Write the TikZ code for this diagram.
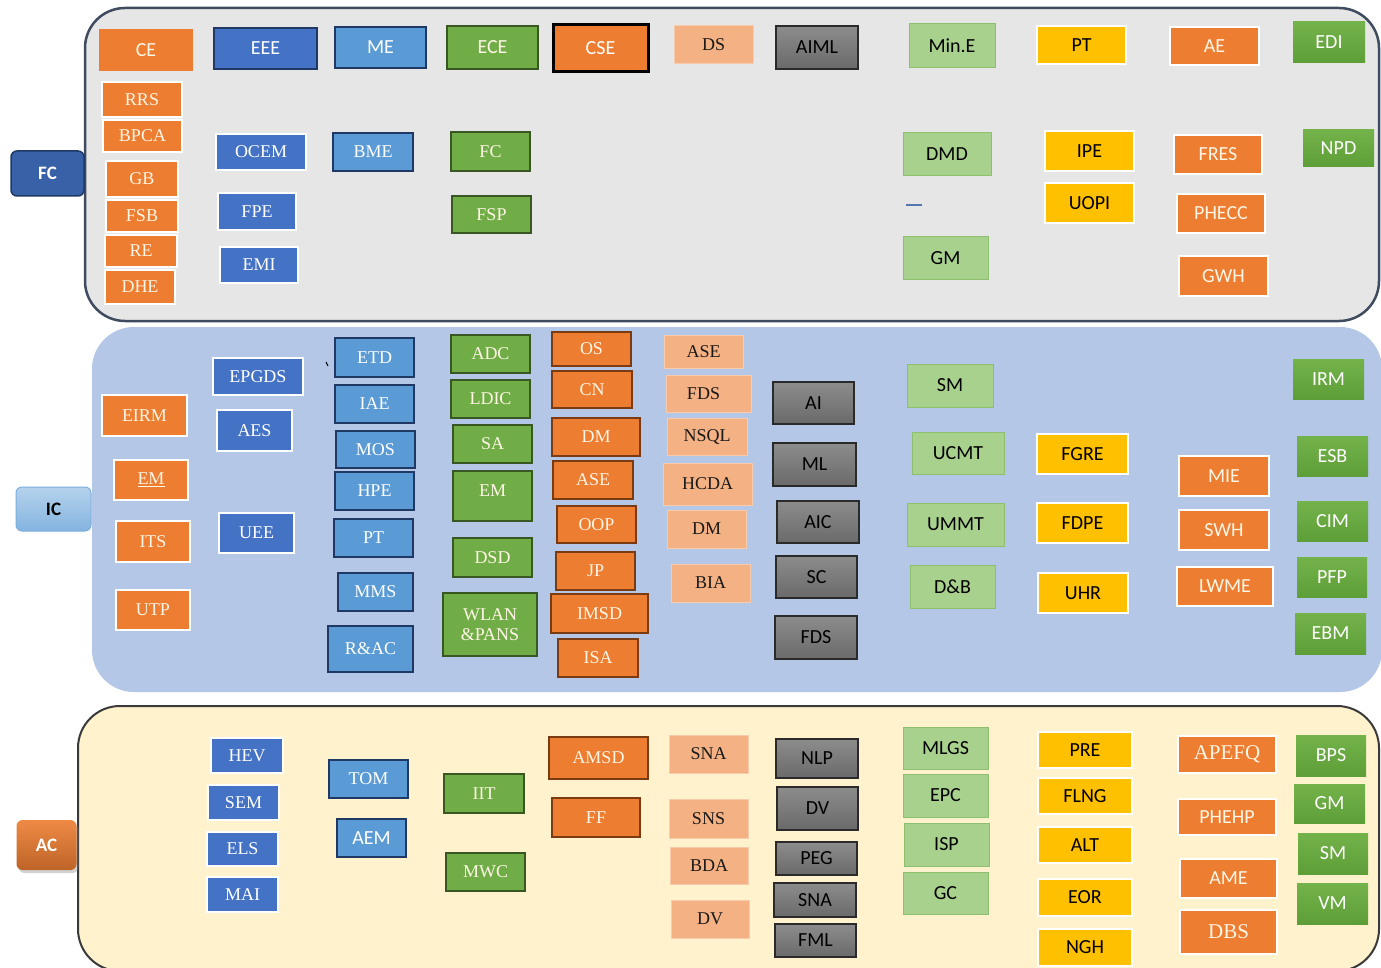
\documentclass[tikz,border=0pt]{standalone}
\usepackage{fontspec}
\setmainfont{Liberation Serif}
\newfontfamily\carl{Carlito}
\usetikzlibrary{shadows}
\definecolor{orA}{HTML}{ED7D31}
\definecolor{orD}{HTML}{7A3A12}
\definecolor{blA}{HTML}{4472C4}
\definecolor{blD}{HTML}{203864}
\definecolor{lbA}{HTML}{5B9BD5}
\definecolor{grA}{HTML}{70AD47}
\definecolor{grD}{HTML}{385723}
\definecolor{grT}{HTML}{74B34A}
\definecolor{grB}{HTML}{5E9E38}
\definecolor{lgA}{HTML}{A9D18E}
\definecolor{lgD}{HTML}{8CBF6E}
\definecolor{yeA}{HTML}{FFC000}
\definecolor{saA}{HTML}{F4B183}
\definecolor{saD}{HTML}{F8CBAD}
\definecolor{gyT}{HTML}{8C8C8C}
\definecolor{gyB}{HTML}{6A6A6A}
\definecolor{gyD}{HTML}{2A2A2A}
\definecolor{fcP}{HTML}{E6E6E6}
\definecolor{fcB}{HTML}{3F4B5E}
\definecolor{icP}{HTML}{B4C7E7}
\definecolor{acP}{HTML}{FFF2CC}
\definecolor{acB}{HTML}{3A3A3A}
\definecolor{crm}{HTML}{FFF6E6}
\newcommand\bxn[8][]{\node[#2,#1,minimum width=#6-#4,minimum height=#7-#5] (#3) at ({(#4+#6)/2},{(#5+#7)/2}) {#8};}
\begin{document}
\begin{tikzpicture}[x=1pt,y=-1pt,
  bx/.style={rectangle, inner sep=0pt, line width=1.8pt, align=center},
  sf/.style={font=\carl\fontsize{20}{24}\selectfont},
  rm/.style={font=\fontsize{18}{21}\selectfont},
  rmb/.style={font=\fontsize{21}{25}\selectfont},
  orn/.style={bx, fill=orA, draw=orA, text=crm},
  orw/.style={bx, fill=orA, draw=white, text=crm},
  ord/.style={bx, fill=orA, draw=orD, text=crm},
  cse/.style={bx, fill=orA, draw=black, line width=3pt, text=white},
  dbw/.style={bx, fill=blA, draw=white, text=white},
  dbd/.style={bx, fill=blA, draw=blD, text=white},
  lbd/.style={bx, fill=lbA, draw=blD, text=white},
  grd/.style={bx, fill=grA, draw=grD, text=crm},
  gr2/.style={bx, top color=grT, bottom color=grB, draw=none, text=white},
  lgn/.style={bx, fill=lgA, draw=lgD, line width=1pt, text=black},
  yew/.style={bx, fill=yeA, draw=white, line width=2.5pt, text=black},
  sal/.style={bx, fill=saA, draw=saD, line width=1pt, text=black!90},
  gry/.style={bx, top color=gyT, bottom color=gyB, draw=gyD, text=black},
  lab/.style={rectangle, rounded corners=6pt, inner sep=0pt, font=\carl\bfseries\fontsize{19}{23}\selectfont}
]
\clip (0,0) rectangle (1381,968);
\fill[white] (0,0) rectangle (1381,968);
% panels
\draw[fill=fcP, draw=fcB, line width=2.5pt, rounded corners=40pt] (85,8) rectangle (1379,321);
\fill[icP, rounded corners=42pt] (92,327) rectangle (1382,692);
\draw[fill=acP, draw=acB, line width=2pt, rounded corners=42pt] (78,706) rectangle (1379,971);
% category labels
\node[lab, fill=blA!70!blD, draw=blD, line width=1.5pt, text=white, minimum width=73, minimum height=45] (FClab) at (47.5,173.5) {FC};
\node[lab, top color=lbA!45, bottom color=lbA!75, draw=lbA!80, line width=1pt, text=black, minimum width=75, minimum height=44] (IClab) at (53.5,509) {IC};
\node[lab, top color=orA!90!white, bottom color=orA!80!black, draw=none, drop shadow={opacity=0.35, shadow xshift=2pt, shadow yshift=-3pt}, text=white, minimum width=60, minimum height=50] (AClab) at (46.5,845) {AC};
% ---------------- FC panel
\bxn{orn,sf}{ce}{100}{30}{192}{70}{CE}
\bxn{dbd,sf}{eee}{214}{28}{317}{69}{EEE}
\bxn{lbd,sf}{me}{335}{27}{426}{68}{ME}
\bxn{grd,sf}{ece}{447}{26}{538}{69}{ECE}
\bxn{cse,sf}{cse}{553}{25}{648}{72}{CSE}
\bxn{sal,rm}{ds}{674}{26}{753}{64}{DS}
\bxn{gry,sf}{aiml}{776}{26}{858}{69}{AIML}
\bxn{lgn,sf}{mine}{909}{24}{995}{68}{Min.E}
\bxn{yew,sf}{pt1}{1037}{26}{1126}{64}{PT}
\bxn{orw,sf}{ae}{1170}{27}{1259}{65}{AE}
\bxn{gr2,sf}{edi}{1293}{22}{1365}{63}{EDI}
\bxn{orw,rm}{rrs}{102}{82}{182}{117}{RRS}
\bxn{orw,rm}{bpca}{103}{120}{182}{152}{BPCA}
\bxn{orw,rm}{gb}{106}{161}{178}{197}{GB}
\bxn{orw,rm}{fsb}{106}{200}{178}{232}{FSB}
\bxn{orw,rm}{re}{105}{235}{177}{267}{RE}
\bxn{orw,rm}{dhe}{105}{270}{175}{304}{DHE}
\bxn{dbw,rm}{ocem}{216}{134}{306}{170}{OCEM}
\bxn{lbd,rm}{bme}{333}{133}{413}{171}{BME}
\bxn{dbw,rm}{fpe}{218}{193}{296}{230}{FPE}
\bxn{dbw,rm}{emi}{220}{247}{298}{283}{EMI}
\bxn{grd,rm}{fcg}{451}{132}{530}{171}{FC}
\bxn{grd,rm}{fsp}{452}{196}{531}{233}{FSP}
\bxn{lgn,sf}{dmd}{903}{133}{991}{176}{DMD}
\bxn{lgn,sf}{gm1}{903}{237}{988}{280}{GM}
\bxn{yew,sf}{ipe}{1045}{131}{1134}{171}{IPE}
\bxn{yew,sf}{uopi}{1045}{183}{1134}{223}{UOPI}
\bxn{orw,sf}{fres}{1174}{135}{1262}{174}{FRES}
\bxn{orw,sf}{phecc}{1177}{194}{1265}{233}{PHECC}
\bxn{orw,sf}{gwh}{1179}{256}{1268}{296}{GWH}
\bxn{gr2,sf}{npd}{1303}{130}{1374}{167}{NPD}
\coordinate (d1) at (906,205);
\coordinate (d2) at (922,205);
\draw[blA!70!gray, line width=1.2pt] (d1) -- (d2);
% ---------------- IC panel
\bxn{dbw,rm}{epgds}{213}{358}{303}{395}{EPGDS}
\bxn{orw,rm}{eirm}{102}{395}{187}{436}{EIRM}
\bxn{dbw,rm}{aes}{217}{410}{292}{451}{AES}
\bxn{orw,rm}{em1}{114}{460}{188}{500}{\underline{EM}}
\bxn{orw,rm}{its}{116}{521}{190}{562}{ITS}
\bxn{orw,rm}{utp}{116}{590}{190}{630}{UTP}
\bxn{dbw,rm}{uee}{219}{513}{294}{553}{UEE}
\coordinate (t1) at (326,362);
\coordinate (t2) at (328,366);
\draw[black, line width=1pt] (t1) -- (t2);
\bxn{lbd,rm}{etd}{335}{338}{414}{377}{ETD}
\bxn{lbd,rm}{iae}{335}{385}{414}{423}{IAE}
\bxn{lbd,rm}{mos}{336}{431}{415}{468}{MOS}
\bxn{lbd,rm}{hpe}{335}{472}{414}{510}{HPE}
\bxn{lbd,rm}{pt2}{334}{519}{413}{557}{PT}
\bxn{lbd,rm}{mms}{338}{573}{413}{611}{MMS}
\bxn{lbd,rm}{rac}{328}{626}{413}{672}{R\&AC}
\bxn{grd,rm}{adc}{451}{335}{530}{373}{ADC}
\bxn{grd,rm}{ldic}{451}{380}{530}{418}{LDIC}
\bxn{grd,rm}{sa}{453}{425}{532}{463}{SA}
\bxn[text depth=11pt]{grd,rm}{em2}{453}{471}{532}{521}{EM}
\bxn{grd,rm}{dsd}{453}{538}{532}{577}{DSD}
\bxn{grd,rm}{wlan}{443}{593}{537}{656}{WLAN\\[-1pt]\&PANS}
\bxn{ord,rm}{os}{552}{332}{631}{366}{OS}
\bxn{ord,rm}{cn}{552}{371}{632}{408}{CN}
\bxn{ord,rm}{dm1}{552}{418}{640}{456}{DM}
\bxn{ord,rm}{ase1}{553}{461}{633}{499}{ASE}
\bxn{ord,rm}{oop}{557}{506}{636}{543}{OOP}
\bxn{ord,rm}{jp}{556}{552}{635}{590}{JP}
\bxn{ord,rm}{imsd}{551}{594}{648}{633}{IMSD}
\bxn{ord,rm}{isa}{558}{639}{638}{677}{ISA}
\bxn{sal,rm}{ase2}{664}{335}{743}{368}{ASE}
\bxn{sal,rm}{fds1}{666}{375}{751}{412}{FDS\hspace*{10pt}}
\bxn{sal,rm}{nsql}{667}{418}{747}{455}{NSQL}
\bxn{sal,rm}{hcda}{663}{463}{752}{505}{HCDA}
\bxn{sal,rm}{dm2}{667}{510}{746}{548}{DM}
\bxn{sal,rm}{bia}{671}{564}{750}{602}{BIA}
\bxn{gry,sf}{ai}{773}{382}{854}{424}{AI}
\bxn{gry,sf}{ml}{773}{443}{856}{486}{ML}
\bxn{gry,sf}{aic}{777}{501}{859}{543}{AIC}
\bxn{gry,sf}{sc}{776}{556}{857}{598}{SC}
\bxn{gry,sf}{fds2}{775}{616}{857}{659}{FDS}
\bxn{lgn,sf}{sm1}{907}{364}{993}{407}{SM}
\bxn{lgn,sf}{ucmt}{912}{432}{1004}{474}{UCMT}
\bxn{lgn,sf}{ummt}{907}{503}{1004}{546}{UMMT}
\bxn{lgn,sf}{db}{910}{565}{995}{608}{D\&B}
\bxn{yew,sf}{fgre}{1037}{434}{1128}{474}{FGRE}
\bxn{yew,sf}{fdpe}{1037}{503}{1128}{543}{FDPE}
\bxn{yew,sf}{uhr}{1038}{573}{1128}{613}{UHR}
\bxn{orw,sf}{mie}{1179}{456}{1269}{496}{MIE}
\bxn{orw,sf}{swh}{1179}{510}{1269}{550}{SWH}
\bxn{orw,sf}{lwme}{1177}{567}{1273}{606}{LWME}
\bxn{gr2,sf}{irm}{1293}{359}{1364}{399}{IRM}
\bxn{gr2,sf}{esb}{1297}{436}{1368}{476}{ESB}
\bxn{gr2,sf}{cim}{1297}{501}{1368}{541}{CIM}
\bxn{gr2,sf}{pfp}{1297}{557}{1367}{597}{PFP}
\bxn{gr2,sf}{ebm}{1295}{613}{1366}{654}{EBM}
% ---------------- AC panel
\bxn{dbw,rm}{hev}{211}{738}{283}{773}{HEV}
\bxn{dbw,rm}{sem}{208}{785}{279}{820}{SEM}
\bxn{dbw,rm}{els}{207}{832}{278}{866}{ELS}
\bxn{dbw,rm}{mai}{207}{877}{278}{912}{MAI}
\bxn{lbd,rm}{tom}{329}{760}{408}{798}{TOM}
\bxn{lbd,sf}{aem}{337}{819}{406}{857}{AEM}
\bxn{grd,rm}{iit}{444}{774}{524}{813}{IIT}
\bxn{grd,rm}{mwc}{446}{853}{525}{891}{MWC}
\bxn{ord,rm}{amsd}{549}{737}{648}{779}{AMSD}
\bxn{ord,rm}{ff}{552}{798}{640}{837}{FF}
\bxn{sal,rm}{sna1}{669}{735}{748}{773}{SNA}
\bxn{sal,rm}{sns}{669}{799}{748}{838}{SNS}
\bxn{sal,rm}{bda}{670}{847}{748}{884}{BDA}
\bxn{sal,rm}{dv1}{671}{900}{749}{938}{DV}
\bxn{gry,sf}{nlp}{776}{739}{858}{778}{NLP}
\bxn{gry,sf}{dv2}{777}{787}{858}{830}{DV}
\bxn{gry,sf}{peg}{776}{842}{857}{875}{PEG}
\bxn{gry,sf}{sna2}{774}{883}{856}{917}{SNA}
\bxn{gry,sf}{fml}{775}{924}{856}{957}{FML}
\bxn{lgn,sf}{mlgs}{903}{727}{988}{769}{MLGS}
\bxn{lgn,sf}{epc}{903}{774}{988}{817}{EPC}
\bxn{lgn,sf}{isp}{904}{823}{989}{866}{ISP}
\bxn{lgn,sf}{gc}{903}{872}{988}{914}{GC}
\bxn{yew,sf}{pre}{1038}{732}{1132}{768}{PRE}
\bxn{yew,sf}{flng}{1038}{778}{1132}{814}{FLNG}
\bxn{yew,sf}{alt}{1038}{827}{1132}{863}{ALT}
\bxn{yew,sf}{eor}{1038}{879}{1132}{916}{EOR}
\bxn{yew,sf}{ngh}{1038}{929}{1132}{966}{NGH}
\bxn{orw,rmb}{apefq}{1178}{736}{1276}{773}{APEFQ}
\bxn{orw,sf}{phehp}{1178}{799}{1276}{835}{PHEHP}
\bxn{orw,sf}{ame}{1180}{859}{1277}{898}{AME}
\bxn{orw,rmb}{dbs}{1180}{910}{1277}{954}{DBS}
\bxn{gr2,sf}{bps}{1296}{735}{1366}{776}{BPS}
\bxn{gr2,sf}{gm2}{1294}{784}{1365}{823}{GM}
\bxn{gr2,sf}{sm2}{1298}{833}{1368}{874}{SM}
\bxn{gr2,sf}{vm}{1297}{883}{1368}{924}{VM}
\end{tikzpicture}
\end{document}
